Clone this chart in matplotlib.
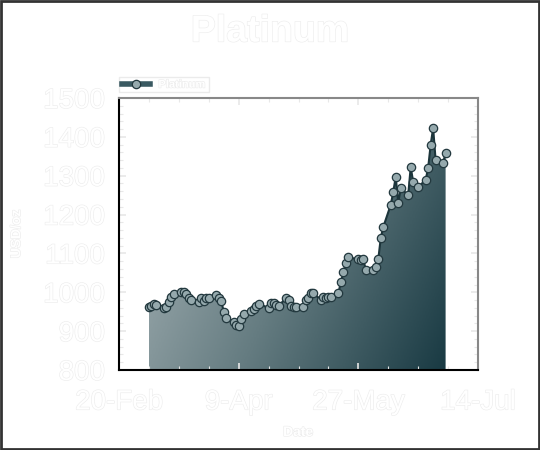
import numpy as np
import pandas as pd
import matplotlib
matplotlib.use('Agg')
import matplotlib.pyplot as plt
import matplotlib.dates as mdates
import matplotlib.patheffects as pe
from matplotlib.colors import LinearSegmentedColormap
from matplotlib.patches import Rectangle

plt.rcParams['font.family'] = ['Liberation Sans', 'DejaVu Sans']

# platinum price, USD/oz, business days 2025
dates = pd.to_datetime([
    '2025-03-04', '2025-03-05', '2025-03-06', '2025-03-07', '2025-03-10', '2025-03-11',
    '2025-03-12', '2025-03-13', '2025-03-14', '2025-03-17', '2025-03-18', '2025-03-19',
    '2025-03-20', '2025-03-21', '2025-03-24', '2025-03-25', '2025-03-26', '2025-03-27',
    '2025-03-28', '2025-03-31', '2025-04-01', '2025-04-02', '2025-04-03', '2025-04-04',
    '2025-04-07', '2025-04-08', '2025-04-09', '2025-04-10', '2025-04-11', '2025-04-14',
    '2025-04-15', '2025-04-16', '2025-04-17', '2025-04-21', '2025-04-22', '2025-04-23',
    '2025-04-24', '2025-04-25', '2025-04-28', '2025-04-29', '2025-04-30', '2025-05-01',
    '2025-05-02', '2025-05-05', '2025-05-06', '2025-05-07', '2025-05-08', '2025-05-09',
    '2025-05-12', '2025-05-13', '2025-05-14', '2025-05-15', '2025-05-16', '2025-05-19',
    '2025-05-20', '2025-05-21', '2025-05-22', '2025-05-23', '2025-05-27', '2025-05-28',
    '2025-05-29', '2025-05-30', '2025-06-02', '2025-06-03', '2025-06-04', '2025-06-05',
    '2025-06-06', '2025-06-09', '2025-06-10', '2025-06-11', '2025-06-12', '2025-06-13',
    '2025-06-16', '2025-06-17', '2025-06-18', '2025-06-20', '2025-06-23', '2025-06-24',
    '2025-06-25', '2025-06-26', '2025-06-27', '2025-06-30', '2025-07-01',
])
prices = [
    962, 965, 970, 966, 960, 962,
    975, 988, 995, 1000, 1001, 996,
    985, 980, 975, 985, 978, 985,
    984, 993, 985, 978, 950, 934,
    924, 916, 913, 930, 944, 952,
    958, 965, 970, 960, 972, 972,
    968, 965, 985, 980, 965, 962,
    962, 962, 980, 985, 998, 998,
    980, 988, 985, 988, 988, 998,
    1026, 1052, 1075, 1090, 1085, 1083,
    1085, 1057, 1057, 1065, 1085, 1140,
    1168, 1225, 1258, 1297, 1230, 1268,
    1250, 1322, 1284, 1271, 1289, 1320,
    1379, 1423, 1340, 1333, 1358,
]
series_name = 'Platinum'

outline = [pe.withStroke(linewidth=0.9, foreground='#ededed')]

fig = plt.figure(figsize=(5.4, 4.5), dpi=100)
fig.patch.set_facecolor('white')
ax = fig.add_axes([0.2204, 0.1778, 0.6648, 0.6044])

x = mdates.date2num(dates)
y = np.array(prices)

ax.set_xlim(mdates.date2num(pd.Timestamp('2025-02-20')), mdates.date2num(pd.Timestamp('2025-07-14')))
ax.set_ylim(800, 1500)

# gradient fill under the line: light top-left, dark bottom-right
cmap = LinearSegmentedColormap.from_list('pt', ['#a9b5b8', '#657c81', '#193a43'])
gx, gy = np.meshgrid(np.linspace(0, 1, 200), np.linspace(0, 1, 200))
grad = 0.72 * gx + 0.28 * gy
poly = ax.fill_between(x, y, 800, color='none', lw=0)
img = ax.imshow(grad, cmap=cmap, aspect='auto', origin='upper',
                extent=[x[0], x[-1], 800, 1430], zorder=1)
img.set_clip_path(poly.get_paths()[0], transform=ax.transData)

ax.plot(x, y, color='#1c353b', lw=1.5, zorder=3, marker='o', markersize=6,
        markerfacecolor='#95a9ad', markeredgecolor='#22383e', markeredgewidth=0.9,
        label=series_name)

# ticks
ax.set_xticks(mdates.date2num(pd.to_datetime(['2025-02-20', '2025-04-09', '2025-05-27', '2025-07-14'])))
ax.xaxis.set_major_formatter(mdates.DateFormatter('%-d-%b'))
ax.set_xticks(np.arange(ax.get_xlim()[0], ax.get_xlim()[1], 12), minor=True)
ax.set_yticks(np.arange(800, 1501, 100))
ax.set_yticks(np.arange(800, 1501, 20), minor=True)
ax.tick_params(axis='both', which='both', direction='in', top=True, right=True,
               colors='#e8e8e8', labelcolor='white', labelsize=20)
ax.tick_params(which='major', length=5, width=1.2)
ax.tick_params(which='minor', length=3, width=0.8)
ax.tick_params(axis='x', pad=14)
ax.tick_params(axis='y', pad=10)
for lab in ax.get_xticklabels() + ax.get_yticklabels():
    lab.set_path_effects(outline)

for side in ['left', 'bottom']:
    ax.spines[side].set_color('black')
    ax.spines[side].set_linewidth(1.5)
for side in ['top', 'right']:
    ax.spines[side].set_color('#888888')
    ax.spines[side].set_linewidth(1.5)

fig.text(0.5, 0.93, 'Platinum', ha='center', va='center', fontsize=27, fontweight='bold',
         color='white', path_effects=outline)
fig.text(0.03, 0.48, 'USD/oz', ha='center', va='center', rotation=90, fontsize=10,
         fontweight='bold', color='white', path_effects=outline)
fig.text(0.552, 0.04, 'Date', ha='center', va='center', fontsize=10, fontweight='bold',
         color='white', path_effects=outline)

leg = fig.legend(loc='center left', bbox_to_anchor=(0.21, 0.812),
                 frameon=True, fancybox=False, handlelength=2.5, borderpad=0.25,
                 handletextpad=0.8, prop={'weight': 'bold', 'size': 8})
leg.get_frame().set_edgecolor('#e6e6e6')
leg.get_frame().set_linewidth(1.0)
for t in leg.get_texts():
    t.set_color('white')
    t.set_path_effects(outline)
for h in leg.get_lines():
    h.set_linewidth(4)
    h.set_color('#3a5a62')

fig.patches.append(Rectangle((0.002, 0.002), 0.996, 0.996, transform=fig.transFigure,
                             fill=False, edgecolor='#333333', linewidth=2))

fig.savefig('out.png', dpi=100, facecolor='white')
